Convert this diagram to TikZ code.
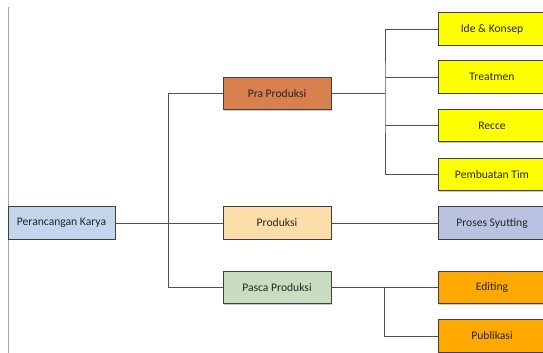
\documentclass[tikz,border=0pt]{standalone}
\usepackage{fontspec}
\setmainfont{Carlito}
\usetikzlibrary{shadows}
\definecolor{cpk}{HTML}{C3D5EC}
\definecolor{cpra}{HTML}{D9804F}
\definecolor{cprod}{HTML}{FDDDAA}
\definecolor{cpasca}{HTML}{C9DEC0}
\definecolor{csyut}{HTML}{B9C3E1}
\definecolor{cyel}{HTML}{FFFF00}
\definecolor{corg}{HTML}{FFA800}
\definecolor{cborder}{HTML}{404040}
\definecolor{cline}{HTML}{505050}
\tikzset{
  box/.style={draw=cborder, line width=0.8pt, minimum width=108pt, minimum height=32.5pt,
    inner sep=0pt, font=\fontsize{11.6pt}{13pt}\selectfont, text=black!85,
    drop shadow={shadow xshift=1.2pt, shadow yshift=-1.2pt, fill=black!35, opacity=0.6}},
  conn/.style={draw=cline, line width=0.8pt},
}
\begin{document}
\begin{tikzpicture}[x=1pt,y=1pt]
\useasboundingbox (0,0) rectangle (543,353);
\fill[white] (0,0) rectangle (543,353);
\draw[black!35, line width=0.8pt] (8,0) -- (8,346);
\node[box, fill=cpk, minimum width=107pt] (pk) at (61.5,130) {Perancangan Karya};
\node[box, fill=cpra] (pra) at (277,259.5) {Pra Produksi};
\node[box, fill=cprod] (prod) at (277,130) {Produksi};
\node[box, fill=cpasca] (pasca) at (277,65.5) {Pasca Produksi};
\node[box, fill=cyel] (ide) at (492,324) {Ide \& Konsep};
\node[box, fill=cyel] (treat) at (492,276) {Treatmen};
\node[box, fill=cyel] (recce) at (492,227.5) {Recce};
\node[box, fill=cyel] (pemb) at (492,178.5) {Pembuatan Tim};
\node[box, fill=csyut] (syut) at (492,130) {Proses Syutting};
\node[box, fill=corg] (edit) at (492,65.5) {Editing};
\node[box, fill=corg] (pub) at (492,17) {Publikasi};
\coordinate (t) at (168,259.5);
\coordinate (j1) at (385,259.5);
\coordinate (j2) at (384,65.5);
\draw[conn] (pk.east) -- (prod.west);
\draw[conn] (pra.west) -- (t) |- (pasca.west);
\draw[conn] (pra.east) -- (j1);
\draw[conn] (ide.west) -| (j1) |- (pemb.west);
\draw[conn] (treat.west) -- (treat.west -| j1);
\draw[conn] (recce.west) -- (recce.west -| j1);
\draw[conn] (prod.east) -- (syut.west);
\draw[conn] (pasca.east) -- (edit.west);
\draw[conn] (j2) |- (pub.west);
\end{tikzpicture}
\end{document}
